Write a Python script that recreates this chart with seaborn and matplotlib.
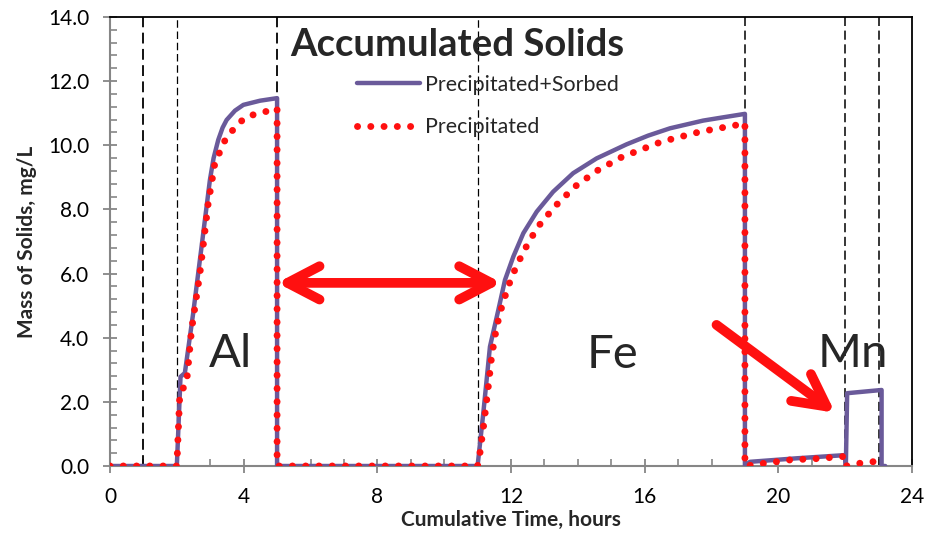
import numpy as np
import pandas as pd
import seaborn as sns
import matplotlib
matplotlib.use("Agg")
import matplotlib.pyplot as plt
from matplotlib.ticker import MultipleLocator, FormatStrFormatter
from matplotlib.patches import FancyArrowPatch

# Accumulated solids (mg/L) versus cumulative time (hours)
time_sorbed = [0, 2.0, 2.11, 2.24, 2.49, 2.74, 2.99, 3.1, 3.24, 3.37, 3.49, 3.74, 3.99, 4.49, 5.0, 5.0,
               11.0, 11.17, 11.37, 11.62, 11.82, 12.07, 12.37, 12.77, 13.26, 13.86, 14.56,
               15.46, 16.1, 16.76, 17.75, 18.4, 19.0, 19.0, 19.15, 20.55, 22.0, 22.02,
               22.06, 23.09, 23.09, 23.2]
mass_sorbed = [0, 0, 2.78, 2.9, 4.77, 6.84, 8.92, 9.6, 10.17, 10.55, 10.79, 11.08, 11.26, 11.39, 11.47, 0,
               0, 1.64, 3.72, 4.86, 5.8, 6.53, 7.26, 7.93, 8.55, 9.13, 9.59,
               10.03, 10.3, 10.53, 10.77, 10.88, 10.98, 0, 0.13, 0.24, 0.34, 0,
               2.27, 2.37, 0, 0]

time_precip = [0, 2.0, 2.09, 2.29, 2.44, 2.69, 2.94, 3.14, 3.49, 4.04, 4.44, 4.95, 5.0, 5.0,
               11.0, 11.07, 11.19, 11.32, 11.42, 11.57, 11.75, 12.02, 12.37, 12.79, 13.32,
               13.91, 14.58, 15.31, 16.5, 17.65, 18.9, 19.0, 19.0, 19.55, 20.35, 21.15,
               22.0, 22.02, 22.4, 22.8, 23.0, 23.05]
mass_precip = [0, 0, 2.27, 2.58, 4.24, 6.0, 8.2, 9.45, 10.27, 10.87, 11.0, 11.12, 11.15, 0,
               0, 0.4, 1.33, 2.47, 3.41, 4.34, 5.07, 5.9, 6.68, 7.44, 8.1,
               8.71, 9.21, 9.63, 10.11, 10.42, 10.66, 10.7, 0, 0.08, 0.19, 0.23,
               0.3, 0, 0.08, 0.13, 0.15, 0]

# Stage boundaries (hours)
stage_times = [1, 2, 5, 11, 19, 22, 23]
stage_widths = [1.3, 0.9, 1.3, 0.9, 1.1, 1.1, 1.1]

# Metal labels
metal_names = ["Al", "Fe", "Mn"]
metal_x = [3.62, 15.05, 22.23]
metal_y = [3.5, 3.45, 3.5]

sns.set_style("white")
plt.rcParams["font.family"] = ["Lato", "DejaVu Sans"]

fig = plt.figure(figsize=(9.4, 5.33), dpi=100)
ax = fig.add_axes([110 / 940, 67 / 533, 802 / 940, 449 / 533])

for t, w in zip(stage_times, stage_widths):
    ax.axvline(t, color="black", lw=w, ls=(0, (6, 3)), zorder=1)

purple = "#6a5a9a"
red = "#ff1010"
sns.lineplot(x=time_sorbed, y=mass_sorbed, ax=ax, estimator=None, sort=False,
             color=purple, lw=3.2, label="Precipitated+Sorbed", zorder=3)
sns.lineplot(x=time_precip, y=mass_precip, ax=ax, estimator=None, sort=False,
             color=red, lw=5.0, label="Precipitated", zorder=4)
ax.lines[-1].set_linestyle((0, (0.01, 1.9)))
ax.lines[-1].set_dash_capstyle("round")

ax.set_xlim(0, 24)
ax.set_ylim(0, 14)
ax.xaxis.set_major_locator(MultipleLocator(4))
ax.xaxis.set_minor_locator(MultipleLocator(1))
ax.yaxis.set_major_locator(MultipleLocator(2))
ax.yaxis.set_minor_locator(MultipleLocator(0.4))
ax.yaxis.set_major_formatter(FormatStrFormatter("%.1f"))

gray = "#868686"
for side in ["left", "bottom"]:
    ax.spines[side].set_color(gray)
    ax.spines[side].set_linewidth(1.5)
for side in ["top", "right"]:
    ax.spines[side].set_color("black")
    ax.spines[side].set_linewidth(1.3)
ax.tick_params(axis="both", which="major", direction="inout", length=10, width=1.3,
               color=gray, labelsize=15, pad=10, labelcolor="black",
               bottom=True, left=True)
ax.tick_params(axis="both", which="minor", direction="in", length=5, width=1.2,
               color=gray, bottom=True, left=True)

ax.set_xlabel("Cumulative Time, hours", fontsize=15, fontweight="bold")
ax.set_ylabel("Mass of Solids, mg/L", fontsize=15, fontweight="bold")
ax.xaxis.set_label_coords(0.5, -0.098)
ax.yaxis.set_label_coords(-0.091, 0.5)

ax.text(10.4, 13.12, "Accumulated Solids", ha="center", va="center",
        fontsize=27.5, fontweight="bold")
for name, x, y in zip(metal_names, metal_x, metal_y):
    ax.text(x, y, name, ha="center", va="center", fontsize=34)

leg = ax.legend(loc="upper left", bbox_to_anchor=(0.308, 0.871), frameon=False,
                fontsize=15.4, handlelength=2.95, handletextpad=0.23, labelspacing=1.05,
                borderpad=0, borderaxespad=0)

# Arrows
ax.add_patch(FancyArrowPatch((5.0, 5.71), (11.72, 5.71),
                             arrowstyle="<->,head_length=1.15,head_width=0.6",
                             mutation_scale=20, color=red, lw=7, capstyle="round",
                             joinstyle="round", shrinkA=0, shrinkB=0, zorder=5))
ax.add_patch(FancyArrowPatch((18.15, 4.4), (21.7, 1.66),
                             arrowstyle="->,head_length=1.15,head_width=0.6",
                             mutation_scale=20, color=red, lw=7, capstyle="round",
                             joinstyle="round", shrinkA=0, shrinkB=0, zorder=5))

fig.savefig("out.png", dpi=100)
